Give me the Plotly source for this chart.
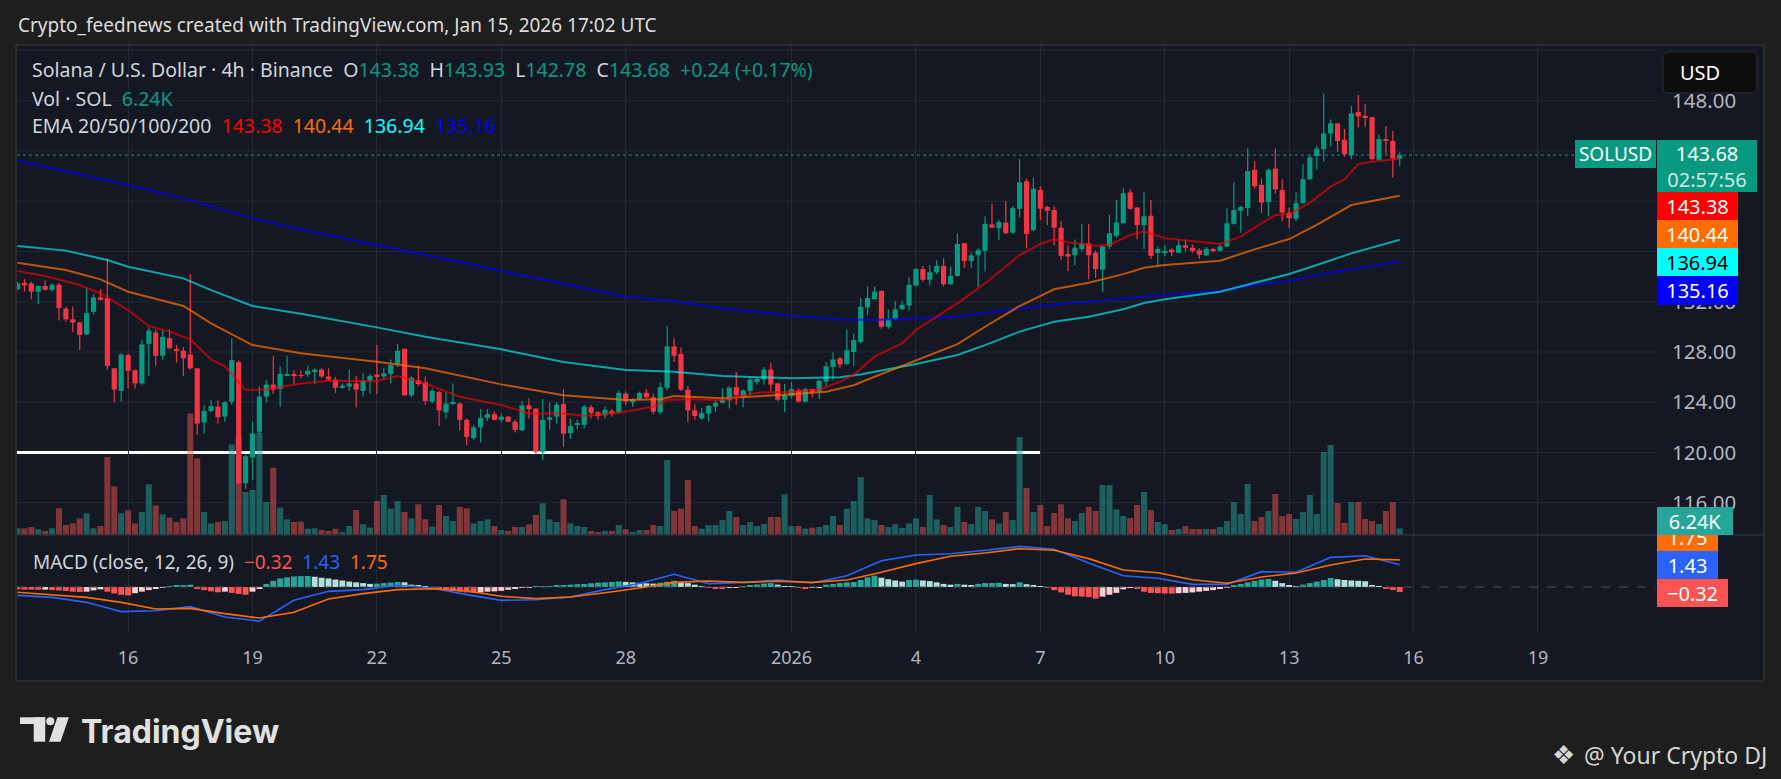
import plotly.graph_objects as go
import pandas as pd

W, H = 1781, 779
FONT = "Noto Sans, sans-serif"

def px(x):
    return x / W

def py(y):
    return 1 - y / H

# ---- data (SOLUSD 4h, Binance) ----
opens = [133.0, 133.5, 133.45, 132.8, 133.25, 132.95, 133.35, 131.45, 130.6, 130.35,
         129.4, 131.2, 132.35, 132.3, 126.7, 124.9, 127.75, 126.55, 125.5, 128.65,
         129.55, 127.7, 129.1, 128.2, 128.1, 127.8, 126.7, 122.4, 123.3, 123.65,
         122.85, 124.05, 127.2, 117.55, 119.6, 121.65, 124.45, 125.4, 125.05, 126.15,
         126.25, 126.15, 126.2, 126.45, 126.6, 126.05, 125.8, 125.15, 125.25, 125.5,
         124.9, 125.7, 126.2, 126.05, 126.25, 127.05, 128.25, 124.55, 125.75, 125.6,
         124.05, 124.8, 123.2, 123.9, 123.9, 122.6, 121.15, 122.0, 122.75, 123.05,
         122.6, 122.85, 122.45, 121.75, 123.75, 123.5, 120.05, 122.6, 122.85, 123.85,
         121.55, 122.25, 122.2, 123.6, 123.2, 122.95, 123.3, 123.2, 124.7, 124.0,
         124.25, 124.75, 124.4, 123.2, 125.15, 128.45, 127.85, 125.0, 123.35, 122.7,
         123.1, 123.65, 123.95, 124.15, 125.2, 124.4, 124.9, 125.6, 125.8, 126.6,
         125.5, 124.2, 124.5, 124.95, 124.05, 125.05, 124.85, 125.65, 126.8, 127.5,
         127.05, 128.0, 128.8, 131.55, 132.2, 132.85, 130.0, 130.6, 131.4, 131.7,
         133.3, 134.6, 133.75, 134.35, 134.85, 133.4, 134.05, 136.65, 135.25, 135.7,
         136.05, 138.15, 137.85, 138.3, 137.5, 139.4, 141.6, 137.7, 140.9, 139.55,
         139.3, 137.9, 135.8, 135.7, 136.2, 136.65, 135.9, 134.55, 136.4, 137.25,
         138.25, 140.7, 139.5, 138.1, 138.85, 135.9, 135.95, 136.15, 135.9, 136.5,
         136.3, 136.1, 135.7, 136.15, 136.05, 136.4, 138.2, 139.25, 139.45, 142.5,
         141.3, 139.95, 142.6, 140.9, 139.1, 138.6, 139.85, 141.75, 143.6, 144.15,
         145.4, 146.2, 144.9, 143.65, 147.1, 146.8, 146.7, 143.3, 144.95, 144.8,
         143.38]
highs = [133.6, 133.8, 133.6, 133.3, 133.7, 133.5, 133.5, 131.6, 131.6, 130.4,
         133.15, 132.6, 133.0, 135.45, 126.7, 127.9, 127.9, 126.6, 128.95, 129.95,
         129.8, 129.75, 129.8, 128.55, 128.4, 134.2, 126.7, 123.8, 124.2, 124.2,
         124.1, 129.1, 127.35, 119.85, 122.45, 125.25, 125.75, 127.7, 126.85, 127.7,
         126.55, 126.5, 126.9, 126.7, 126.7, 126.7, 126.0, 125.5, 126.6, 126.1,
         126.3, 126.25, 128.55, 126.7, 127.4, 128.65, 128.3, 126.05, 126.9, 126.05,
         125.1, 124.9, 124.8, 125.5, 124.0, 122.7, 122.2, 123.45, 123.45, 123.25,
         123.1, 122.9, 122.6, 124.1, 124.3, 123.5, 124.25, 124.0, 124.0, 125.05,
         122.7, 122.6, 123.8, 123.8, 123.3, 123.65, 123.45, 124.95, 124.85, 124.3,
         124.85, 125.05, 124.7, 125.6, 130.05, 129.1, 128.35, 125.3, 123.85, 123.55,
         123.8, 124.15, 125.1, 125.3, 126.4, 125.0, 125.95, 126.0, 126.8, 127.15,
         125.55, 125.45, 125.6, 125.1, 125.15, 125.1, 125.75, 127.2, 127.95, 127.6,
         129.8, 129.45, 132.3, 133.2, 133.2, 132.9, 131.4, 132.05, 132.05, 133.95,
         134.7, 134.85, 134.9, 135.3, 135.45, 134.8, 137.45, 136.7, 135.9, 136.25,
         138.8, 139.8, 138.55, 140.0, 139.6, 143.35, 141.8, 141.9, 141.2, 139.65,
         139.6, 138.45, 136.5, 136.95, 138.2, 138.2, 136.1, 136.5, 138.9, 140.1,
         141.05, 140.95, 139.55, 140.7, 140.1, 136.4, 136.5, 136.25, 136.9, 136.9,
         136.55, 136.25, 136.35, 136.3, 136.65, 139.45, 141.5, 139.65, 144.2, 143.2,
         141.8, 142.6, 144.2, 141.75, 139.5, 140.7, 142.95, 143.75, 144.4, 148.55,
         146.5, 146.25, 145.75, 147.6, 148.45, 147.75, 146.7, 145.3, 146.0, 145.6,
         143.93]
lows = [132.9, 132.8, 132.2, 131.8, 132.9, 132.8, 130.5, 130.4, 129.6, 128.15,
        129.35, 130.95, 132.1, 126.6, 124.0, 124.05, 125.1, 125.1, 125.4, 126.1,
        126.9, 127.4, 128.2, 127.15, 126.1, 126.6, 121.4, 121.5, 123.2, 122.3,
        122.45, 123.8, 117.5, 117.1, 117.8, 121.5, 124.0, 124.65, 123.65, 126.1,
        125.4, 125.9, 126.0, 125.45, 125.95, 125.7, 124.75, 125.1, 124.9, 123.6,
        124.45, 124.7, 124.65, 125.8, 125.5, 126.8, 124.5, 124.4, 125.3, 123.8,
        123.9, 122.1, 122.7, 123.8, 121.75, 120.6, 121.0, 120.8, 122.5, 122.55,
        122.4, 122.4, 121.6, 121.7, 122.7, 119.9, 119.4, 121.8, 122.3, 120.45,
        121.1, 121.85, 121.9, 122.7, 122.6, 122.7, 122.85, 123.1, 123.8, 123.65,
        124.15, 124.3, 123.05, 123.05, 124.95, 127.2, 124.9, 122.4, 122.6, 122.6,
        122.45, 123.2, 123.9, 123.5, 123.8, 123.6, 124.55, 125.4, 125.4, 124.9,
        124.1, 123.2, 124.3, 123.95, 123.95, 124.4, 124.25, 125.3, 125.8, 126.7,
        126.95, 126.9, 128.7, 130.95, 132.15, 129.85, 129.85, 130.55, 131.35, 131.3,
        133.2, 133.6, 133.3, 134.2, 133.2, 133.35, 134.0, 134.7, 134.7, 133.2,
        134.4, 137.85, 136.9, 137.4, 137.4, 138.7, 136.25, 137.6, 138.5, 138.1,
        136.5, 135.3, 134.45, 134.9, 136.0, 133.8, 133.9, 132.8, 136.2, 137.1,
        138.2, 139.3, 136.95, 136.2, 135.4, 134.9, 135.65, 135.65, 135.85, 136.0,
        135.9, 135.4, 135.65, 135.9, 136.0, 136.35, 138.15, 137.5, 138.8, 141.0,
        139.05, 138.8, 140.6, 138.4, 137.85, 138.4, 139.8, 141.7, 142.5, 143.15,
        144.35, 143.95, 143.55, 143.35, 145.9, 145.9, 143.25, 143.25, 143.75, 141.9,
        142.78]
closes = [133.45, 133.3, 132.8, 133.25, 132.95, 133.35, 131.5, 130.6, 130.35, 129.35,
          131.1, 132.35, 132.2, 126.9, 125.0, 127.8, 126.5, 125.5, 128.6, 129.7,
          127.7, 129.2, 128.3, 128.1, 127.5, 126.7, 122.3, 123.3, 123.7, 122.8,
          124.0, 127.35, 117.55, 119.7, 121.5, 124.45, 125.4, 125.0, 126.25, 126.25,
          126.1, 126.1, 126.5, 126.6, 126.05, 125.8, 125.15, 125.3, 125.5, 125.0,
          125.7, 126.1, 126.0, 126.3, 126.95, 128.1, 124.55, 125.95, 125.45, 124.1,
          124.9, 123.35, 123.9, 124.0, 122.6, 121.25, 122.0, 122.75, 123.05, 122.6,
          122.85, 122.45, 121.8, 123.75, 123.45, 120.05, 122.6, 122.8, 123.8, 121.5,
          122.1, 122.3, 123.65, 123.15, 122.9, 123.4, 123.1, 124.75, 124.05, 124.25,
          124.75, 124.4, 123.25, 125.2, 128.45, 127.7, 125.0, 123.35, 122.9, 123.15,
          123.7, 123.95, 124.2, 125.15, 124.55, 124.95, 125.8, 125.85, 126.6, 125.4,
          124.2, 124.6, 125.05, 124.05, 125.05, 124.8, 125.7, 126.85, 127.4, 127.0,
          128.15, 128.95, 131.6, 132.3, 132.8, 130.0, 130.65, 131.4, 131.75, 133.35,
          134.6, 133.75, 134.35, 134.85, 133.4, 134.05, 136.6, 135.25, 135.7, 136.1,
          138.2, 137.9, 138.35, 137.45, 139.45, 141.5, 137.4, 141.0, 139.4, 139.25,
          137.9, 135.65, 135.6, 136.3, 136.65, 135.7, 134.6, 136.4, 137.45, 138.3,
          140.65, 139.4, 138.1, 138.8, 135.65, 136.2, 136.05, 135.95, 136.5, 136.3,
          136.05, 135.75, 136.2, 136.05, 136.4, 138.25, 139.3, 139.55, 142.4, 141.2,
          139.9, 142.5, 140.95, 139.1, 138.65, 139.85, 141.75, 143.5, 144.2, 145.4,
          146.2, 144.8, 143.75, 147.0, 146.75, 146.7, 143.35, 144.95, 144.8, 143.4,
          143.68]
volume_k = [6.3, 6.3, 7.5, 5.3, 3.8, 6.3, 25.0, 9.4, 10.9, 15.6,
            20.3, 6.3, 8.4, 73.1, 45.6, 20.3, 23.1, 10.9, 21.6, 47.5,
            27.8, 19.4, 16.3, 12.2, 15.6, 113.8, 71.9, 21.6, 10.9, 12.2,
            13.1, 85.0, 91.3, 40.3, 42.2, 95.9, 30.9, 63.1, 25.6, 14.7,
            12.2, 12.5, 5.9, 6.3, 4.7, 3.8, 5.9, 2.8, 8.4, 23.4,
            10.0, 6.9, 31.9, 37.5, 24.7, 31.9, 21.6, 15.6, 28.8, 14.7,
            7.8, 28.1, 17.8, 13.1, 26.3, 25.0, 10.9, 13.1, 14.7, 8.4,
            4.7, 3.8, 7.5, 7.5, 10.0, 18.8, 29.7, 14.7, 12.2, 33.4,
            10.9, 8.4, 7.5, 3.8, 2.8, 3.8, 3.8, 9.4, 5.3, 2.8,
            4.7, 4.7, 9.4, 8.4, 70.3, 22.5, 24.7, 51.6, 8.4, 5.9,
            9.4, 9.4, 14.1, 22.5, 16.9, 9.4, 12.2, 8.4, 10.3, 16.9,
            16.9, 38.1, 8.4, 8.4, 5.9, 6.9, 7.5, 9.4, 17.8, 9.4,
            24.7, 31.9, 54.4, 15.6, 14.1, 9.4, 7.5, 10.0, 6.6, 10.9,
            15.6, 7.5, 37.5, 14.7, 9.4, 7.5, 26.3, 12.2, 10.3, 26.3,
            22.5, 14.7, 10.9, 21.6, 14.1, 91.9, 44.1, 21.6, 28.1, 8.4,
            20.6, 28.8, 15.6, 13.1, 20.6, 26.3, 22.5, 46.9, 46.9, 24.1,
            17.8, 15.9, 28.1, 40.3, 23.4, 12.2, 10.0, 4.7, 5.6, 8.4,
            5.6, 5.6, 5.6, 5.6, 7.5, 13.1, 30.9, 19.7, 47.8, 13.1,
            16.9, 22.5, 38.4, 17.8, 19.7, 15.0, 21.6, 37.5, 19.7, 77.8,
            84.4, 30.0, 11.3, 30.9, 30.9, 15.0, 13.1, 10.3, 22.5, 30.9,
            6.24]
macd_hist = [-0.15, -0.17, -0.17, -0.18, -0.17, -0.2, -0.22, -0.26, -0.3, -0.32,
             -0.3, -0.22, -0.15, -0.3, -0.42, -0.5, -0.54, -0.4, -0.3, -0.2,
             -0.12, -0.05, 0.05, 0.1, 0.13, 0.15, -0.1, -0.2, -0.28, -0.34,
             -0.3, -0.38, -0.45, -0.5, -0.3, -0.1, 0.2, 0.4, 0.55, 0.62,
             0.68, 0.7, 0.71, 0.66, 0.6, 0.55, 0.48, 0.42, 0.35, 0.3,
             0.25, 0.2, 0.22, 0.25, 0.28, 0.32, 0.3, 0.15, 0.08, 0.02,
             -0.02, -0.1, -0.18, -0.25, -0.3, -0.35, -0.37, -0.35, -0.3, -0.28,
             -0.25, -0.18, -0.12, -0.06, -0.02, 0.04, 0.05, 0.06, 0.1, 0.13,
             0.15, 0.18, 0.2, 0.24, 0.28, 0.3, 0.33, 0.36, 0.33, 0.3,
             0.27, 0.24, 0.22, 0.28, 0.34, 0.4, 0.32, 0.25, 0.15, 0.05,
             -0.05, -0.1, -0.12, -0.05, -0.02, 0.02, 0.1, 0.16, 0.22, 0.25,
             0.15, 0.06, 0.02, -0.05, -0.08, -0.06, -0.03, 0.15, 0.2, 0.25,
             0.3, 0.32, 0.45, 0.62, 0.73, 0.6, 0.5, 0.42, 0.35, 0.45,
             0.47, 0.42, 0.38, 0.3, 0.2, 0.15, 0.2, 0.15, 0.12, 0.2,
             0.25, 0.26, 0.27, 0.2, 0.18, 0.3, 0.18, 0.1, 0.05, -0.03,
             -0.2, -0.35, -0.5, -0.6, -0.62, -0.65, -0.75, -0.62, -0.5, -0.38,
             -0.15, -0.05, -0.1, -0.3, -0.38, -0.4, -0.42, -0.43, -0.4, -0.38,
             -0.35, -0.3, -0.25, -0.2, -0.12, -0.03, 0.12, 0.2, 0.3, 0.4,
             0.48, 0.52, 0.4, 0.25, 0.1, 0.03, 0.15, 0.25, 0.35, 0.45,
             0.58, 0.5, 0.45, 0.42, 0.4, 0.37, 0.1, 0.02, -0.12, -0.2,
             -0.32]

# indicator lines, sampled at candle numbers (1 = first candle on screen)
macd_idx = [1, 6, 11, 16, 21, 26, 31, 36, 41, 46, 51, 56, 61, 66, 71, 76, 81, 86, 91, 96,
            101, 106, 111, 116, 121, 126, 131, 136, 141, 146, 151, 156, 161, 166, 171,
            176, 181, 186, 191, 196, 201]
macd_line = [-0.54, -0.67, -0.99, -1.59, -1.53, -1.27, -1.94, -2.2, -0.86, -0.28, -0.17,
             0.11, -0.06, -0.49, -0.86, -0.82, -0.65, -0.17, 0.22, 0.82, 0.22, 0.30, 0.45,
             0.26, 0.73, 1.70, 2.06, 2.15, 2.37, 2.62, 2.43, 1.55, 0.73, 0.56, 0.17, 0.17,
             0.99, 0.95, 1.91, 2.02, 1.43]
signal_line = [-0.34, -0.52, -0.67, -0.99, -1.42, -1.38, -1.72, -2.0, -1.63, -0.77, -0.43,
               -0.17, -0.11, -0.26, -0.60, -0.75, -0.65, -0.37, -0.06, 0.30, 0.39, 0.30,
               0.37, 0.30, 0.45, 0.95, 1.51, 1.98, 2.19, 2.47, 2.37, 1.83, 1.10, 0.92, 0.47,
               0.24, 0.65, 0.90, 1.42, 1.81, 1.75]

ema20_idx = [1, 5, 10, 13, 17, 20, 23, 26, 29, 31, 34, 37, 42, 46, 53, 56, 60, 65, 71, 75,
             80, 83, 88, 93, 95, 98, 103, 108, 113, 117, 120, 122, 125, 129, 131, 137, 141,
             144, 146, 149, 151, 153, 157, 159, 162, 164, 167, 175, 178, 181, 183, 185, 188,
             191, 193, 195, 197, 201]
ema20 = [134.45, 134.05, 133.33, 132.67, 131.34, 130.07, 129.62, 129.0, 127.41, 126.88,
         124.97, 125.02, 125.5, 125.71, 125.69, 126.09, 125.5, 124.44, 123.78, 123.11,
         123.11, 122.9, 123.17, 123.64, 124.17, 124.23, 124.17, 124.76, 124.84, 125.02,
         125.63, 126.2, 127.63, 128.69, 129.75, 131.87, 133.46, 134.79, 135.72, 136.6,
         136.97, 136.73, 136.46, 136.52, 137.31, 137.58, 137.05, 136.6, 137.18, 138.24,
         138.9, 138.96, 139.89, 141.16, 141.74, 142.96, 143.15, 143.38]
ema50_idx = [1, 8, 13, 17, 25, 29, 35, 42, 53, 60, 71, 80, 89, 94, 96, 103, 113, 118, 120,
             122, 125, 131, 137, 141, 146, 151, 156, 161, 164, 167, 175, 180, 185, 189, 194, 201]
ema50 = [135.11, 134.53, 133.78, 132.8, 131.66, 130.28, 128.55, 127.9, 127.23, 126.7,
         125.42, 124.55, 124.17, 124.23, 124.5, 124.31, 124.63, 124.84, 125.1, 125.35,
         126.03, 127.36, 128.63, 130.01, 131.66, 132.99, 133.52, 134.2, 134.7, 134.92,
         135.27, 136.17, 136.99, 138.11, 139.7, 140.44]
ema100_idx = [1, 8, 14, 17, 25, 29, 35, 42, 53, 60, 71, 80, 89, 96, 103, 113, 120, 123, 125,
              131, 137, 141, 146, 151, 156, 161, 164, 167, 175, 180, 185, 189, 194, 201]
ema100 = [136.44, 136.07, 135.32, 134.79, 133.86, 132.93, 131.66, 131.05, 129.96, 129.22,
          128.21, 127.2, 126.57, 126.43, 126.09, 125.9, 125.98, 126.2, 126.43, 127.04,
          127.76, 128.55, 129.62, 130.41, 130.81, 131.4, 131.9, 132.19, 132.8, 133.52,
          134.21, 134.92, 135.85, 136.94]
ema200_idx = [1, 5, 10, 17, 25, 29, 35, 42, 46, 53, 60, 71, 80, 89, 96, 103, 113, 120, 125,
              131, 137, 141, 146, 151, 156, 161, 167, 175, 180, 185, 189, 194, 201]
ema200 = [143.23, 142.75, 142.17, 141.29, 140.23, 139.57, 138.64, 137.75, 137.31, 136.52,
          135.72, 134.45, 133.4, 132.4, 132.06, 131.47, 130.89, 130.6, 130.55, 130.65,
          130.81, 131.13, 131.47, 131.79, 132.0, 132.27, 132.55, 132.88, 133.33, 133.68,
          134.13, 134.6, 135.16]

support_level = 120.0
support_end = "2026-01-07 00:00"

tick_dates = ["2025-12-16", "2025-12-19", "2025-12-22", "2025-12-25", "2025-12-28",
              "2026-01-01", "2026-01-04", "2026-01-07", "2026-01-10", "2026-01-13",
              "2026-01-16", "2026-01-19"]
tick_text = ["16", "19", "22", "25", "28", "2026", "4", "7", "10", "13", "16", "19"]
price_ticks = [116, 120, 124, 128, 132, 136, 140, 144, 148, 152]
# labels that the price tags cover up in the original are left blank
price_labels = ["116.00", "120.00", "124.00", "128.00", "132.00", "", "", "", "148.00", ""]

# ---- colours ----
BG = "#1e1e1e"
PANEL = "#141823"
GRID = "#242834"
TXT = "#d1d4dc"
AXT = "#b2b5be"
UP = "#089981"
DN = "#f23645"

times = pd.date_range("2025-12-13 08:00", periods=len(opens), freq="4h")
x_start = "2025-12-13 07:42"
x_end = "2026-01-21 20:20"
HOUR = 3600 * 1000
PRICE_RANGE = [113.43, 152.36]
VOL_RANGE = [0, 458.4]


def at(idx):
    return [times[i - 1] for i in idx]


def on_vol_axis(p):
    # place a price level on the (hidden) volume axis that shares the pane
    f = (p - PRICE_RANGE[0]) / (PRICE_RANGE[1] - PRICE_RANGE[0])
    return VOL_RANGE[0] + f * (VOL_RANGE[1] - VOL_RANGE[0])


up = [c >= o for o, c in zip(opens, closes)]

fig = go.Figure()

# volume (base axis, drawn underneath the candles)
vol_colors = ["rgba(38,166,154,0.5)" if u else "rgba(239,83,80,0.5)" for u in up]
fig.add_trace(go.Bar(x=times, y=volume_k, marker=dict(color=vol_colors, line_width=0),
                     width=3.5 * HOUR, xaxis="x", yaxis="y"))

# candles: bodies as bars, wicks as line segments
for flag, col in [(True, UP), (False, DN)]:
    sel = [i for i in range(len(opens)) if up[i] == flag]
    fig.add_trace(go.Bar(
        x=[times[i] for i in sel],
        base=[min(opens[i], closes[i]) for i in sel],
        y=[max(abs(closes[i] - opens[i]), 0.06) for i in sel],
        marker=dict(color=col, line_width=0), width=3.0 * HOUR,
        xaxis="x", yaxis="y2"))
    wx, wy = [], []
    for i in sel:
        wx += [times[i], times[i], None]
        wy += [lows[i], highs[i], None]
    fig.add_trace(go.Scatter(x=wx, y=wy, mode="lines", line=dict(color=col, width=1.2),
                             xaxis="x", yaxis="y2"))

for idx, vals, col in [(ema200_idx, ema200, "rgba(0,0,255,0.72)"),
                       (ema100_idx, ema100, "rgba(0,255,255,0.62)"),
                       (ema50_idx, ema50, "rgba(255,109,0,0.72)"),
                       (ema20_idx, ema20, "rgba(255,0,0,0.62)")]:
    fig.add_trace(go.Scatter(x=at(idx), y=vals, mode="lines", line=dict(color=col, width=2),
                             xaxis="x", yaxis="y2"))

# MACD pane
hist_colors = []
for i, h in enumerate(macd_hist):
    prev = macd_hist[i - 1] if i else h
    if h >= 0:
        hist_colors.append("#26a69a" if h > prev else "#b2dfdb")
    else:
        hist_colors.append("#ffcdd2" if h > prev else "#ff5252")
fig.add_trace(go.Bar(x=times, y=macd_hist, marker=dict(color=hist_colors, line_width=0),
                     width=3.4 * HOUR, xaxis="x2", yaxis="y3"))
fig.add_trace(go.Scatter(x=at(macd_idx), y=macd_line, mode="lines",
                         line=dict(color="#2962ff", width=1.6), xaxis="x2", yaxis="y3"))
fig.add_trace(go.Scatter(x=at(macd_idx), y=signal_line, mode="lines",
                         line=dict(color="#ff6d00", width=1.6), xaxis="x2", yaxis="y3"))

dom_x = [px(17), px(1656)]

fig.update_layout(
    width=W, height=H, margin=dict(l=0, r=0, t=0, b=0),
    paper_bgcolor=BG, plot_bgcolor=PANEL, showlegend=False, barmode="overlay",
    hovermode=False,
    xaxis=dict(domain=dom_x, anchor="y", type="date", range=[x_start, x_end],
               tickvals=tick_dates, showticklabels=False, showgrid=True, gridcolor=GRID,
               zeroline=False, showline=False, ticks=""),
    xaxis2=dict(domain=dom_x, anchor="y3", type="date", matches="x", tickvals=tick_dates,
                ticktext=tick_text, showgrid=True, gridcolor=GRID, zeroline=False,
                showline=False, ticks="", tickfont=dict(family=FONT, size=18, color=AXT),
                ticklabelstandoff=12),
    yaxis=dict(domain=[py(535), py(46)], range=VOL_RANGE, visible=False),
    yaxis2=dict(overlaying="y", anchor="x", side="right", range=PRICE_RANGE,
                tickvals=price_ticks, ticktext=price_labels,
                showgrid=False, zeroline=False, showline=False, ticks="",
                tickfont=dict(family=FONT, size=20.5, color=AXT), ticklabelstandoff=15),
    yaxis3=dict(domain=[py(633), py(535)], anchor="x2", range=[-2.968, 3.355],
                showgrid=False, zeroline=False, showticklabels=False),
)

shapes = [
    dict(type="rect", xref="paper", yref="paper", x0=px(16), x1=px(1764), y0=py(681),
         y1=py(45), fillcolor=PANEL, line=dict(color="#2b2b2b", width=2), layer="below"),
]
# horizontal price grid + support line on the base axis, so volume bars sit over them
for v in price_ticks:
    yv = on_vol_axis(v)
    shapes.append(dict(type="line", xref="x domain", yref="y", x0=0, x1=1, y0=yv, y1=yv,
                       line=dict(color=GRID, width=1), layer="below"))
ys = on_vol_axis(support_level)
shapes += [
    dict(type="line", xref="x", yref="y", x0=x_start, x1=support_end, y0=ys, y1=ys,
         line=dict(color="white", width=3), layer="below"),
    dict(type="line", xref="x domain", yref="y2", x0=0, x1=1, y0=closes[-1], y1=closes[-1],
         line=dict(color=UP, width=1, dash="dot")),
    dict(type="line", xref="x2 domain", yref="y3", x0=0, x1=1, y0=0, y1=0,
         line=dict(color="#4a4e59", width=1, dash="dash")),
    dict(type="line", xref="paper", yref="paper", x0=px(16), x1=px(1764), y0=py(535),
         y1=py(535), line=dict(color="#2a2e39", width=1.5)),
]

# rounded USD box
r = 6
bx0, by0, bx1, by1 = 1663, 52, 1757, 93
usd_path = (f"M {px(bx0 + r)},{py(by0)} L {px(bx1 - r)},{py(by0)} "
            f"Q {px(bx1)},{py(by0)} {px(bx1)},{py(by0 + r)} L {px(bx1)},{py(by1 - r)} "
            f"Q {px(bx1)},{py(by1)} {px(bx1 - r)},{py(by1)} L {px(bx0 + r)},{py(by1)} "
            f"Q {px(bx0)},{py(by1)} {px(bx0)},{py(by1 - r)} L {px(bx0)},{py(by0 + r)} "
            f"Q {px(bx0)},{py(by0)} {px(bx0 + r)},{py(by0)} Z")
shapes.append(dict(type="path", xref="paper", yref="paper", path=usd_path,
                   fillcolor="#0d0d0d", line=dict(color="#2f2f2f", width=1)))

# TradingView logo mark
LOGO = "#e1e1e1"
shapes += [
    dict(type="rect", xref="paper", yref="paper", x0=px(20), x1=px(45.2), y0=py(724),
         y1=py(717.3), fillcolor=LOGO, line_width=0),
    dict(type="rect", xref="paper", yref="paper", x0=px(33.7), x1=px(45.2), y0=py(741.7),
         y1=py(717.3), fillcolor=LOGO, line_width=0),
    dict(type="circle", xref="paper", yref="paper", x0=px(46.3), x1=px(54.3), y0=py(725.3),
         y1=py(717.3), fillcolor=LOGO, line_width=0),
    dict(type="path", xref="paper", yref="paper",
         path=f"M {px(57.4)},{py(717.3)} L {px(68.9)},{py(717.3)} L {px(60.5)},{py(741.7)} "
              f"L {px(49)},{py(741.7)} Z", fillcolor=LOGO, line_width=0),
]
fig.update_layout(shapes=shapes)


def txt(text, x, y, size=19.5, color=TXT, xanchor="left", family=FONT):
    return dict(text=text, xref="paper", yref="paper", x=px(x), y=py(y), xanchor=xanchor,
                yanchor="middle", showarrow=False, font=dict(family=family, size=size,
                                                             color=color))


def box(text, x0, y0, w, h, bg, fg="white", size=20):
    return dict(text=text, xref="paper", yref="paper", x=px(x0), y=py(y0), xanchor="left",
                yanchor="top", width=w, height=h, bgcolor=bg, borderpad=0, borderwidth=0,
                align="center", valign="middle", showarrow=False,
                font=dict(family=FONT, size=size, color=fg))


def span(s, col):
    return f'<span style="color:{col}">{s}</span>'


sp = "\u00a0\u00a0"
o, hi, lo, c = opens[-1], highs[-1], lows[-1], closes[-1]
row1 = ("Solana / U.S. Dollar · 4h · Binance" + sp + "O" + span("%.2f" % o, UP) + sp + "H"
        + span("%.2f" % hi, UP) + sp + "L" + span("%.2f" % lo, UP) + sp + "C"
        + span("%.2f" % c, UP) + sp + span("+0.24 (+0.17%)", UP))
row2 = "Vol · SOL" + sp + span("6.24K", UP)
row3 = ("EMA 20/50/100/200" + sp + span("%.2f" % ema20[-1], "#ff0000") + sp
        + span("%.2f" % ema50[-1], "#ff6d00") + sp + span("%.2f" % ema100[-1], "#00ffff")
        + sp + span("%.2f" % ema200[-1], "#0000ff"))
row_macd = ("MACD (close, 12, 26, 9)" + sp + span("\u22120.32", "#ff5252") + sp
            + span("%.2f" % macd_line[-1], "#2962ff") + sp
            + span("%.2f" % signal_line[-1], "#ff6d00"))

annotations = [
    txt("Crypto_feednews created with TradingView.com, Jan 15, 2026 17:02 UTC", 16, 25,
        size=19, color="#dcdcdc"),
    txt(row1, 30, 70),
    txt(row2, 30, 98),
    txt(row3, 30, 126),
    txt(row_macd, 31, 562, size=19),
    txt("USD", 1678, 72, size=20, color="white"),
    box("SOLUSD", 1575, 140, 81, 28, UP, size=19),
    box("%.2f<br>" % c + span("02:57:56", "#cfe8e3"), 1657, 140, 100, 52, UP),
    box("%.2f" % ema20[-1], 1657, 192, 81, 28, "#ff0000"),
    box("%.2f" % ema50[-1], 1657, 220, 81, 28, "#ff6d00"),
    box("%.2f" % ema100[-1], 1657, 248, 81, 28, "#00ffff", "black"),
    box("%.2f" % ema200[-1], 1657, 276, 81, 29, "#0000ff"),
    box("%.2f" % signal_line[-1], 1657, 523, 61, 28, "#ff6d00"),
    box("6.24K", 1657, 507, 76, 28, "#26a69a"),
    box("%.2f" % macd_line[-1], 1657, 551, 61, 28, "#2962ff"),
    box("\u22120.32", 1657, 579, 71, 28, "#ff5252"),
    txt("<b>TradingView</b>", 79, 731, size=32, color=LOGO, family="Inter, sans-serif"),
    txt("\u2756", 1563, 755, size=26, color="#d6d6d6", xanchor="center",
        family="DejaVu Sans"),
    txt("@ Your Crypto DJ", 1582, 755, size=23, color="#d6d6d6"),
]
fig.update_layout(annotations=annotations)

fig.write_html("out.html", config={"displayModeBar": False},
               post_script="document.body.style.margin='0';")
